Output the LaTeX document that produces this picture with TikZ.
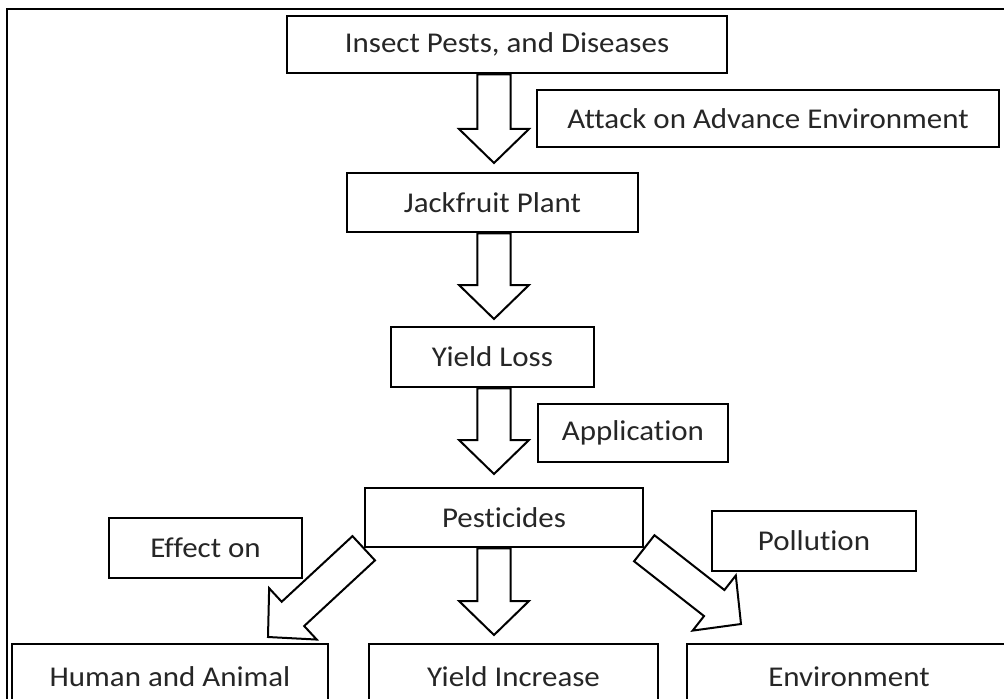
\documentclass[tikz,border=0pt]{standalone}
\usepackage{fontspec}
\setmainfont{Carlito}[FakeStretch=1.08, Ligatures=NoCommon]
\usetikzlibrary{calc}
\tikzset{
  box/.style={draw=black, line width=1.9pt, fill=white, inner sep=0pt,
    font=\fontsize{21.5pt}{25pt}\selectfont, text=black!85},
  barrow/.style={draw=black, line width=1.5pt, fill=white, line join=miter},
  frame/.style={draw=black, line width=1.8pt}
}
\newcommand{\blockarr}[2]{%
  \coordinate (bs) at (#1);
  \coordinate (be) at (#2);
  \coordinate (bh) at ($(be)!25.5pt!(bs)$);
  \draw[barrow] ($(bs)!12.4pt!90:(be)$) -- ($(bh)!12.4pt!90:(be)$) -- ($(bh)!26.25pt!90:(be)$) -- (be)
     -- ($(bh)!26.25pt!-90:(be)$) -- ($(bh)!12.4pt!-90:(be)$) -- ($(bs)!12.4pt!-90:(be)$) -- cycle;
}
\begin{document}
\begin{tikzpicture}[x=0.75pt, y=-0.75pt]
\useasboundingbox (0,0) rectangle (1004,699);
\clip (0,0) rectangle (1004,699);
\fill[white] (0,0) rectangle (1004,699);
\draw[frame] (1012,9) -- (7,9) -- (7,712);

% tips of block arrows
\coordinate (t1) at (494,163);
\coordinate (t2) at (494,319);
\coordinate (t3) at (494,474);
\coordinate (t4) at (494,635);
\coordinate (tl) at (268,637);
\coordinate (tr) at (741,624);

% boxes
\node[box, minimum width=330pt, minimum height=42.75pt] (pests) at (507,44.5) {Insect Pests, and Diseases};
\node[box, minimum width=346.5pt, minimum height=42.75pt] (attack) at (768,118.5) {Attack on Advance Environment};
\node[box, minimum width=218.25pt, minimum height=44.25pt] (jack) at (492.5,202.5) {Jackfruit Plant};
\node[box, minimum width=152.25pt, minimum height=45pt] (loss) at (492.5,357) {Yield Loss};
\node[box, minimum width=142.5pt, minimum height=43.5pt] (appl) at (633,433) {Application};
\node[box, minimum width=208.5pt, minimum height=44.25pt] (pest) at (504,517.5) {Pesticides};
\node[box, minimum width=144.75pt, minimum height=45pt] (effect) at (205.5,548) {Effect on};
\node[box, minimum width=153pt, minimum height=45pt] (poll) at (814,541) {Pollution};
\node[box, minimum width=237pt, minimum height=49.5pt] (human) at (170,677) {Human and Animal};
\node[box, minimum width=216.75pt, minimum height=49.5pt] (incr) at (513.5,677) {Yield Increase};
\node[box, minimum width=243pt, minimum height=49.5pt] (env) at (849,677) {Environment};

% block arrows
\blockarr{pests.south -| t1}{t1}
\blockarr{jack.south -| t2}{t2}
\blockarr{loss.south -| t3}{t3}
\blockarr{pest.south -| t4}{t4}
\blockarr{pest.south west}{tl}
\blockarr{pest.south east}{tr}
\end{tikzpicture}
\end{document}
